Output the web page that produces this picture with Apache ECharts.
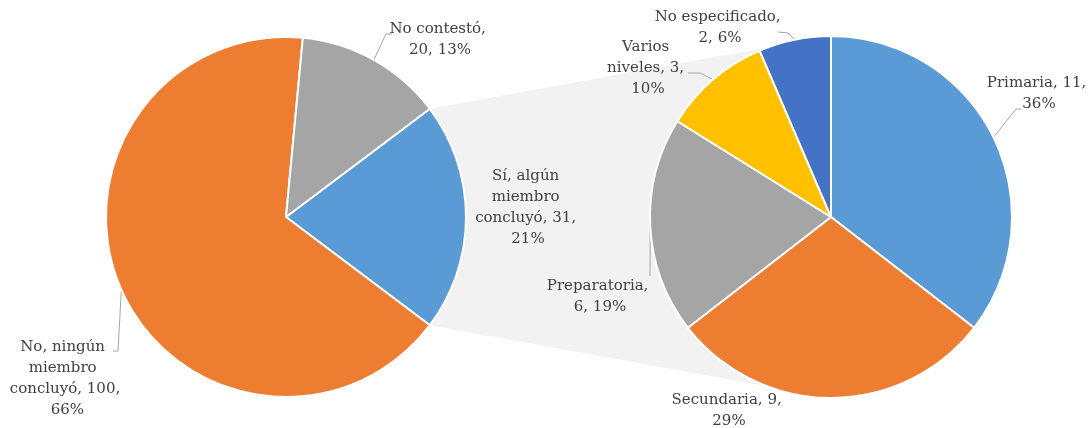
<!DOCTYPE html>
<html>
<head>
<meta charset="utf-8">
<script src="https://cdn.jsdelivr.net/npm/echarts@6/dist/echarts.min.js"></script>
<style>
  html, body { margin: 0; padding: 0; background: #fff; }
  #chart { width: 1091px; height: 428px; }
</style>
</head>
<body>
<div id="chart"></div>
<script>
// datos del pastel principal
var leftNames = ['Sí, algún miembro concluyó', 'No, ningún miembro concluyó', 'No contestó'];
var leftValues = [31, 100, 20];
var leftColors = ['#5B9BD5', '#ED7D31', '#A5A5A5'];

// desglose de "Sí, algún miembro concluyó"
var rightNames = ['Primaria', 'Secundaria', 'Preparatoria', 'Varios niveles', 'No especificado'];
var rightValues = [11, 9, 6, 3, 2];
var rightColors = ['#5B9BD5', '#ED7D31', '#A5A5A5', '#FFC000', '#4472C4'];

var myChart = echarts.init(document.getElementById('chart'));

// geometria
var L = { cx: 286, cy: 217, r: 180 };
var R = { cx: 831, cy: 217, r: 181 };
var leftTotal = leftValues.reduce(function (a, b) { return a + b; }, 0);
var half = 360 * leftValues[0] / leftTotal / 2;

// etiqueta: [x centro, y centro, ancho de ajuste, linea, codo dx, codo dy, fin dx, fin dy]
var leftLabelPos = [
  [528, 208, 112, false],
  [65, 379, 120, true, 53, -28, 48, -28],
  [440, 40, 108, true, -54, -6, -48, -6]
];
var rightLabelPos = [
  [1039, 94, 112, true, -23, 15, -18, 15],
  [729, 411, 120, false],
  [600, 297, 108, true, 50, -21, 50, -21],
  [648, 68, 88, true, 52, 5, 40, 5],
  [720, 28, 132, true, 68, 5, 58, 4]
];

function buildData (names, values, colors, pos) {
  return names.map(function (n, i) {
    return {
      name: n,
      value: values[i],
      itemStyle: { color: colors[i] },
      label: { width: pos[i][2] },
      labelLine: { show: pos[i][3] }
    };
  });
}

function layoutFor (pos) {
  return function (params) {
    var p = pos[params.dataIndex];
    var out = { x: p[0], y: p[1], align: 'center', verticalAlign: 'middle' };
    if (p[3] && params.labelLinePoints) {
      out.labelLinePoints = [
        params.labelLinePoints[0],
        [p[0] + p[4], p[1] + p[5]],
        [p[0] + p[6], p[1] + p[7]]
      ];
    }
    return out;
  };
}

var rad = half * Math.PI / 180;
var connector = [
  [L.cx + L.r * Math.cos(rad), L.cy - L.r * Math.sin(rad)],
  [R.cx, R.cy - R.r],
  [R.cx, R.cy + R.r],
  [L.cx + L.r * Math.cos(rad), L.cy + L.r * Math.sin(rad)]
];

var labelCommon = {
  show: true,
  position: 'outside',
  formatter: '{b}, {c}, {d}%',
  fontFamily: 'DejaVu Serif',
  fontSize: 15,
  lineHeight: 21,
  color: '#404040',
  align: 'center',
  overflow: 'break'
};
var lineCommon = {
  show: true,
  length: 10,
  length2: 10,
  lineStyle: { color: '#A6A6A6', width: 1 }
};

var option = {
  animation: false,
  backgroundColor: '#fff',
  graphic: [{
    type: 'polygon',
    z: 0,
    silent: true,
    shape: { points: connector },
    style: { fill: '#F2F2F2' }
  }],
  series: [
    {
      type: 'pie',
      z: 2,
      center: [L.cx, L.cy],
      radius: L.r,
      startAngle: half,
      clockwise: true,
      percentPrecision: 0,
      avoidLabelOverlap: false,
      itemStyle: { borderColor: '#fff', borderWidth: 2 },
      label: labelCommon,
      labelLine: lineCommon,
      labelLayout: layoutFor(leftLabelPos),
      emphasis: { disabled: true },
      data: buildData(leftNames, leftValues, leftColors, leftLabelPos)
    },
    {
      type: 'pie',
      z: 2,
      center: [R.cx, R.cy],
      radius: R.r,
      startAngle: 90,
      clockwise: true,
      percentPrecision: 0,
      avoidLabelOverlap: false,
      itemStyle: { borderColor: '#fff', borderWidth: 2 },
      label: labelCommon,
      labelLine: lineCommon,
      labelLayout: layoutFor(rightLabelPos),
      emphasis: { disabled: true },
      data: buildData(rightNames, rightValues, rightColors, rightLabelPos)
    }
  ]
};

option && myChart.setOption(option);
</script>
</body>
</html>
